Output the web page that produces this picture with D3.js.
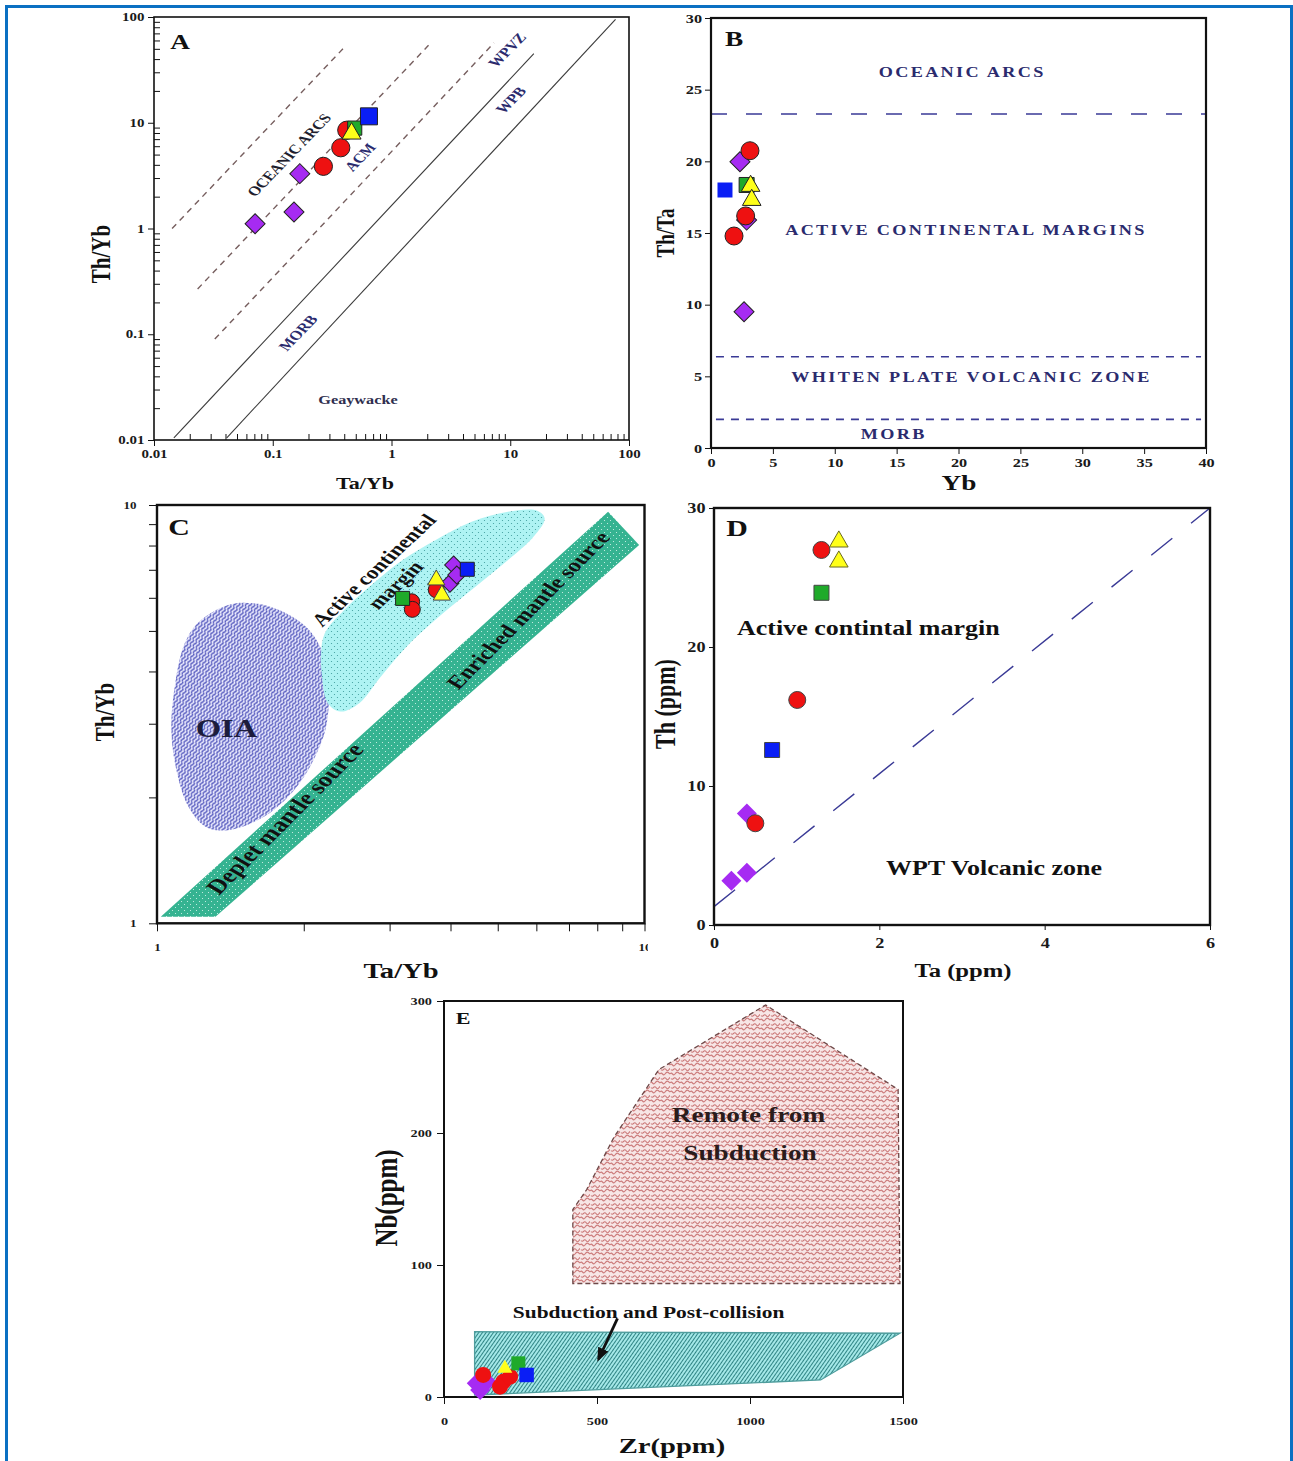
<!DOCTYPE html>
<html>
<head>
<meta charset="utf-8">
<script src="https://cdn.jsdelivr.net/npm/d3@7"></script>
<style>
  body { margin: 0; background: #fff; }
  svg text { font-family: "Liberation Serif", "Times New Roman", serif; font-weight: bold; }
</style>
</head>
<body>
<svg id="fig" width="1293" height="1461"></svg>
<script>
// ---- panel A : Th/Yb vs Ta/Yb (log-log)
const aTicks = [0.01, 0.1, 1, 10, 100];
const aRed = [[0.42, 8.5], [0.374, 5.8], [0.267, 3.87]];
const aPurple = [[0.169, 3.3], [0.151, 1.43], [0.071, 1.11]];
const aBlue = [[0.646, 11.5]];
const aGreen = [[0.49, 8.9]];
const aYellow = [[0.461, 7.9]];
const aDashed = [[[0.0142, 1.0], [0.39, 50]], [[0.0233, 0.268], [2.05, 54]], [[0.0325, 0.09], [7.3, 57]]];
const aSolid = [[[0.0147, 0.0105], [15.8, 45]], [[0.041, 0.0105], [77, 95]]];

// ---- panel B : Th/Ta vs Yb
const bXTicks = [0, 5, 10, 15, 20, 25, 30, 35, 40];
const bYTicks = [0, 5, 10, 15, 20, 25, 30];
const bRed = [[3.15, 20.74], [2.8, 16.19], [1.86, 14.79]];
const bPurple = [[2.34, 19.97], [2.88, 15.9], [2.67, 9.51]];
const bBlue = [[1.13, 18.0]];
const bGreen = [[2.88, 18.35]];
const bYellow = [[3.2, 18.28], [3.29, 17.3]];
const bLongLimit = 23.3;
const bShortLimits = [6.37, 2.0];

// ---- panel C : Th/Yb vs Ta/Yb (log-log)
const cTicks = [1, 10];
const cRed = [[3.33, 5.87], [3.34, 5.63], [3.74, 6.27]];
const cPurple = [[4.06, 7.19], [3.99, 6.5], [4.12, 6.8]];
const cBlue = [[4.33, 7.02]];
const cGreen = [[3.19, 5.98]];
const cYellow = [[3.74, 6.62], [3.84, 6.09]];
const cOIA = [[1.22, 5.26], [1.40, 5.77], [1.58, 5.82], [1.84, 5.51], [2.08, 4.93], [2.23, 4.10], [2.23, 3.01],
  [2.11, 2.50], [1.91, 2.08], [1.66, 1.80], [1.40, 1.67], [1.26, 1.70], [1.16, 1.90], [1.10, 2.28],
  [1.07, 2.90], [1.09, 3.75], [1.14, 4.67]];
const cACM = [[2.21, 4.94], [2.42, 5.61], [2.78, 6.50], [3.19, 7.39], [3.73, 8.25], [4.42, 9.12], [5.25, 9.64],
  [6.03, 9.69], [6.24, 9.29], [5.92, 8.40], [5.25, 7.39], [4.50, 6.38], [3.86, 5.51], [3.30, 4.67],
  [2.88, 3.89], [2.60, 3.36], [2.38, 3.21], [2.24, 3.36], [2.18, 3.89], [2.17, 4.42]];
const cBand = [[1.018, 1.037], [8.42, 9.64], [9.75, 8.02], [1.318, 1.037]];

// ---- panel D : Th vs Ta
const dXTicks = [0, 2, 4, 6];
const dYTicks = [0, 10, 20, 30];
const dRed = [[1.30, 26.98], [1.007, 16.19], [0.50, 7.32]];
const dPurple = [[0.398, 8.03], [0.398, 3.76], [0.21, 3.19]];
const dBlue = [[0.703, 12.59]];
const dGreen = [[1.30, 23.9]];
const dYellow = [[1.51, 27.58], [1.51, 26.14]];
const dLine = [[0, 1.32], [6, 30]];

// ---- panel E : Nb vs Zr
const eXTicks = [0, 500, 1000, 1500];
const eYTicks = [0, 100, 200, 300];
const ePurple = [[107, 10.4], [139, 11.6], [118, 5.3]];
const eRed = [[128, 16.7], [194, 11.6], [183, 7.8], [216, 15.4]];
const eYellow = [[199, 21.7]];
const eGreen = [[243, 25.5]];
const eBlue = [[270, 16.7]];
const eRemote = [[421, 86], [421, 142], [466, 157], [556, 197], [702, 248], [1051, 297], [1484, 233], [1490, 86]];
const eSubd = [[100, 49.5], [1490, 48.3], [1231, 12.9], [100, 1.5]];
const eArrow = [[567, 59.6], [505, 28.6]];

// de originele figuur is horizontaal wat uitgerekt
const SX = 1.3;

const svg = d3.select("#fig");
const defs = svg.append("defs");

// patronen voor de gebieden
const pOIA = defs.append("pattern").attr("id", "pOIA").attr("patternUnits", "userSpaceOnUse")
    .attr("width", 6).attr("height", 3.4).attr("patternTransform", "rotate(-62)");
pOIA.append("rect").attr("width", 6).attr("height", 3.4).attr("fill", "#eeeeff");
pOIA.append("path").attr("d", "M0,1.7 Q1.5,0.3 3,1.7 T6,1.7")
    .attr("fill", "none").attr("stroke", "#5f63c2").attr("stroke-width", 1.5);

const pACM = defs.append("pattern").attr("id", "pACM").attr("patternUnits", "userSpaceOnUse")
    .attr("width", 6).attr("height", 6);
pACM.append("rect").attr("width", 6).attr("height", 6).attr("fill", "#aef3f3");
pACM.append("circle").attr("cx", 1.5).attr("cy", 1.5).attr("r", 0.6).attr("fill", "#3f9c9c");
pACM.append("circle").attr("cx", 4.5).attr("cy", 4.5).attr("r", 0.6).attr("fill", "#3f9c9c");

const pBand = defs.append("pattern").attr("id", "pBand").attr("patternUnits", "userSpaceOnUse")
    .attr("width", 6).attr("height", 6);
pBand.append("rect").attr("width", 6).attr("height", 6).attr("fill", "#35b391");
pBand.append("circle").attr("cx", 1.5).attr("cy", 1.5).attr("r", 0.55).attr("fill", "#d8f5ec");
pBand.append("circle").attr("cx", 4.5).attr("cy", 4.5).attr("r", 0.55).attr("fill", "#d8f5ec");

const pPink = defs.append("pattern").attr("id", "pPink").attr("patternUnits", "userSpaceOnUse")
    .attr("width", 10).attr("height", 9);
pPink.append("rect").attr("width", 10).attr("height", 9).attr("fill", "#f7e6e6");
pPink.append("path").attr("d", "M0,3 c2,-3 3,3 5,0 s3,-2 5,0 M1,7.5 c2,2.5 3,-2.5 5,0 s2,1 4,-1")
    .attr("fill", "none").attr("stroke", "#cc7b7b").attr("stroke-width", 1.1);

const pHatch = defs.append("pattern").attr("id", "pHatch").attr("patternUnits", "userSpaceOnUse")
    .attr("width", 3).attr("height", 10).attr("patternTransform", "rotate(35)");
pHatch.append("rect").attr("width", 3).attr("height", 10).attr("fill", "#aaeded");
pHatch.append("line").attr("x1", 1.5).attr("x2", 1.5).attr("y1", 0).attr("y2", 10)
    .attr("stroke", "#2f8484").attr("stroke-width", 1.1);

defs.append("marker").attr("id", "arrow").attr("viewBox", "0 0 10 8").attr("refX", 8).attr("refY", 4)
    .attr("markerWidth", 5).attr("markerHeight", 5).attr("orient", "auto")
  .append("path").attr("d", "M0,0 L10,4 L0,8 z").attr("fill", "#111");

defs.append("clipPath").attr("id", "clipC").append("rect")
    .attr("x", 0).attr("y", 0).attr("width", 648).attr("height", 1461);

// blauwe rand om de figuur
svg.append("path").attr("d", "M6.5,1461 V6.5 H1291.5 V1461")
    .attr("fill", "none").attr("stroke", "#0a70c2").attr("stroke-width", 3);

// maak een paneel met schalen
function panel(o) {
  const g = svg.append("g");
  const x = (o.xLog ? d3.scaleLog() : d3.scaleLinear()).domain(o.xDomain).range([o.left, o.right]);
  const y = (o.yLog ? d3.scaleLog() : d3.scaleLinear()).domain(o.yDomain).range([o.bottom, o.top]);
  return {g: g, x: x, y: y, o: o};
}

function minorLog(lo, hi) {
  const out = [];
  for (let d = lo; d < hi * 0.999; d *= 10)
    for (let k = 2; k <= 9; k++) out.push(+(d * k).toPrecision(3));
  return out;
}

function styleAxis(sel, fs) {
  sel.attr("font-size", fs).attr("font-family", "Liberation Serif").attr("font-weight", "bold");
  sel.select(".domain").remove();
  sel.selectAll("text").attr("fill", "#1a1a1a");
  sel.selectAll("line").attr("stroke", "#111");
}

function axes(p, c) {
  const o = p.o;
  const bx = p.g.append("g").attr("transform", "translate(0," + o.bottom + ")")
      .call(d3.axisBottom(p.x).tickValues(c.xTicks).tickFormat(d => String(d))
        .tickSize(c.tick).tickSizeOuter(0).tickPadding(c.xPad));
  styleAxis(bx, c.fs);
  bx.selectAll("text").attr("transform", "scale(" + SX + ",1)");
  if (c.clip) bx.attr("clip-path", "url(#" + c.clip + ")");
  const ly = p.g.append("g").attr("transform", "translate(" + o.left + ",0)")
      .call(d3.axisLeft(p.y).tickValues(c.yTicks).tickFormat(d => String(d))
        .tickSize(c.tick).tickSizeOuter(0).tickPadding(c.yPad));
  styleAxis(ly, c.fs);
  ly.selectAll("text").attr("x", -(c.tick + c.yPad) / SX).attr("transform", "scale(" + SX + ",1)");
  if (c.xMinor) {
    const mx = p.g.append("g").attr("transform", "translate(0," + o.bottom + ")")
        .call(d3.axisBottom(p.x).tickValues(c.xMinor).tickFormat("").tickSize(c.minor).tickSizeOuter(0));
    styleAxis(mx, c.fs);
    const my = p.g.append("g").attr("transform", "translate(" + o.left + ",0)")
        .call(d3.axisLeft(p.y).tickValues(c.yMinor).tickFormat("").tickSize(c.minor).tickSizeOuter(0));
    styleAxis(my, c.fs);
  }
  p.g.append("rect").attr("x", o.left).attr("y", o.top)
      .attr("width", o.right - o.left).attr("height", o.bottom - o.top)
      .attr("fill", "none").attr("stroke", "#111").attr("stroke-width", c.frame);
}

const symbols = {circle: d3.symbolCircle, square: d3.symbolSquare, diamond: d3.symbolSquare, triangle: d3.symbolTriangle};

function marks(p, data, shape, size, fill, stroke) {
  const sym = d3.symbol().type(symbols[shape]).size(size);
  p.g.append("g").selectAll("path").data(data).enter().append("path")
      .attr("d", sym)
      .attr("transform", d => "translate(" + p.x(d[0]) + "," + p.y(d[1]) + ")" + (shape == "diamond" ? " rotate(45)" : ""))
      .attr("fill", fill)
      .attr("stroke", stroke || "none")
      .attr("stroke-width", 1);
}

// tekst, met dezelfde horizontale rek als de bron
function txt(parent, x, y, s, size, opt) {
  opt = opt || {};
  let rot = 0;
  if (opt.rot) rot = (opt.rot == -90) ? -90 : Math.atan(SX * Math.tan(opt.rot * Math.PI / 180)) * 180 / Math.PI;
  const t = parent.append("text").attr("x", 0).attr("y", 0).attr("dy", "0.35em")
      .attr("transform", "translate(" + x + "," + y + ") scale(" + SX + ",1) rotate(" + rot + ")")
      .attr("text-anchor", opt.anchor || "middle").attr("font-size", size)
      .attr("fill", opt.color || "#111").text(s);
  if (opt.ls) t.attr("letter-spacing", opt.ls);
  return t;
}

function polygon(p, pts, fill, stroke, dash) {
  p.g.append("path").datum(pts)
      .attr("d", d3.line().x(d => p.x(d[0])).y(d => p.y(d[1])).curve(d3.curveLinearClosed))
      .attr("fill", fill).attr("stroke", stroke || "none").attr("stroke-width", 1.3)
      .attr("stroke-dasharray", dash || null);
}

function blob(p, pts, fill) {
  p.g.append("path").datum(pts)
      .attr("d", d3.line().x(d => p.x(d[0])).y(d => p.y(d[1])).curve(d3.curveCatmullRomClosed))
      .attr("fill", fill);
}

function segments(p, list, color, width, dash) {
  p.g.append("g").selectAll("path").data(list).enter().append("path")
      .attr("d", d3.line().x(d => p.x(d[0])).y(d => p.y(d[1])))
      .attr("fill", "none").attr("stroke", color).attr("stroke-width", width)
      .attr("stroke-dasharray", dash || null);
}

const RED = "#ee1111", PURPLE = "#a62bf2", BLUE = "#0a1ef5", GREEN = "#1faa2a", YELLOW = "#ffff1a";
const NAVY = "#2b2b6e";

// ================= A
const A = panel({left: 154, right: 629, top: 17, bottom: 440, xLog: true, yLog: true, xDomain: [0.01, 100], yDomain: [0.01, 100]});
segments(A, aDashed, "#765e5e", 1.4, "6,5");
segments(A, aSolid, "#3a3a3a", 1.1);
axes(A, {xTicks: aTicks, yTicks: aTicks, xMinor: minorLog(0.01, 100), yMinor: minorLog(0.01, 100),
  tick: 6, minor: -6, fs: 11.5, xPad: 4, yPad: 3.5, frame: 1.6});
txt(A.g, A.x(0.137), A.y(4.96), "OCEANIC ARCS", 13, {rot: -46, color: "#1e1e2e"});
txt(A.g, A.x(0.543), A.y(4.74), "ACM", 13, {rot: -46, color: NAVY});
txt(A.g, A.x(9.4), A.y(48.7), "WPVZ", 13, {rot: -45, color: NAVY});
txt(A.g, A.x(10.1), A.y(16.4), "WPB", 13, {rot: -45, color: NAVY});
txt(A.g, A.x(0.163), A.y(0.103), "MORB", 13, {rot: -46, color: NAVY});
txt(A.g, A.x(0.522), A.y(0.0239), "Geaywacke", 12.5, {color: "#2e2e4e"});
marks(A, aPurple, "diamond", 200, PURPLE, "#222");
marks(A, aRed, "circle", 260, RED, "#222");
marks(A, aGreen, "square", 200, GREEN, "#222");
marks(A, aBlue, "square", 289, BLUE, "#222");
marks(A, aYellow, "triangle", 156, YELLOW, "#222");
txt(svg, 180, 42, "A", 21, {});
txt(svg, 100, 254, "Th/Yb", 21, {rot: -90});
txt(svg, 365, 483, "Ta/Yb", 17, {});

// ================= B
const B = panel({left: 711, right: 1206, top: 18, bottom: 448, xDomain: [0, 40], yDomain: [0, 30]});
segments(B, [[[0, bLongLimit], [40, bLongLimit]]], "#3a3a96", 1.6, "16,19");
segments(B, bShortLimits.map(v => [[0.4, v], [39.6, v]]), "#3a3a96", 1.6, "8,7");
axes(B, {xTicks: bXTicks, yTicks: bYTicks, tick: 6, fs: 12.5, xPad: 4, yPad: 3, frame: 2.2});
txt(B.g, B.x(20.3), B.y(26.2), "OCEANIC ARCS", 14, {color: NAVY, ls: 1.8});
txt(B.g, B.x(20.6), B.y(15.2), "ACTIVE CONTINENTAL MARGINS", 14, {color: NAVY, ls: 1.8});
txt(B.g, B.x(21.05), B.y(4.97), "WHITEN PLATE VOLCANIC ZONE", 14, {color: NAVY, ls: 1.8});
txt(B.g, B.x(14.77), B.y(0.96), "MORB", 14, {color: NAVY, ls: 1.8});
marks(B, bPurple, "diamond", 200, PURPLE, "#222");
marks(B, bBlue, "square", 225, BLUE, "none");
marks(B, bGreen, "square", 225, GREEN, "#222");
marks(B, bRed, "circle", 254, RED, "#222");
marks(B, bYellow, "triangle", 150, YELLOW, "#222");
txt(svg, 734, 39, "B", 21, {});
txt(svg, 665, 233, "Th/Ta", 19, {rot: -90});
txt(svg, 959, 483, "Yb", 21, {});

// ================= C
const C = panel({left: 157, right: 644.5, top: 505, bottom: 923.3, xLog: true, yLog: true, xDomain: [1, 10], yDomain: [1, 10]});
blob(C, cOIA, "url(#pOIA)");
blob(C, cACM, "url(#pACM)");
polygon(C, cBand, "url(#pBand)");
axes(C, {xTicks: cTicks, yTicks: cTicks, xMinor: minorLog(1, 10), yMinor: minorLog(1, 10),
  tick: 8, minor: 8, fs: 10, xPad: 13, yPad: 12.5, frame: 2.4, clip: "clipC"});
txt(C.g, C.x(1.388), C.y(2.93), "OIA", 25, {color: "#1c1c3c"});
txt(C.g, C.x(2.78), C.y(6.99), "Active continental", 18, {rot: -43});
txt(C.g, C.x(3.08), C.y(6.44), "margin", 18, {rot: -43});
txt(C.g, C.x(5.77), C.y(5.61), "Enriched mantle source", 19, {rot: -45});
txt(C.g, C.x(1.826), C.y(1.78), "Deplet mantle source", 20.5, {rot: -45});
marks(C, cPurple, "diamond", 162, PURPLE, "#222");
marks(C, cRed, "circle", 201, RED, "#222");
marks(C, cGreen, "square", 196, GREEN, "#222");
marks(C, cBlue, "square", 196, BLUE, "#222");
marks(C, cYellow, "triangle", 130, YELLOW, "#444");
txt(svg, 179, 527, "C", 23, {});
txt(svg, 104, 712, "Th/Yb", 21, {rot: -90});
txt(svg, 401, 970, "Ta/Yb", 22, {});

// ================= D
const D = panel({left: 714, right: 1210, top: 508, bottom: 925, xDomain: [0, 6], yDomain: [0, 30]});
segments(D, [dLine], "#3a3a96", 1.4, "27,24");
axes(D, {xTicks: dXTicks, yTicks: dYTicks, tick: 5, fs: 14, xPad: 8, yPad: 3.5, frame: 2.4});
txt(D.g, D.x(1.867), D.y(21.35), "Active contintal margin", 20, {});
txt(D.g, D.x(3.387), D.y(4.08), "WPT Volcanic zone", 20, {});
marks(D, dPurple, "diamond", 200, PURPLE, "none");
marks(D, dRed, "circle", 227, RED, "#444");
marks(D, dGreen, "square", 225, GREEN, "#444");
marks(D, dBlue, "square", 225, BLUE, "#444");
marks(D, dYellow, "triangle", 150, YELLOW, "#6a6a20");
txt(svg, 737, 528, "D", 23, {});
txt(svg, 665, 704, "Th (ppm)", 22, {rot: -90});
txt(svg, 963, 970, "Ta (ppm)", 19, {});

// ================= E
const E = panel({left: 444, right: 903, top: 1001, bottom: 1397, xDomain: [0, 1500], yDomain: [0, 300]});
polygon(E, eRemote, "url(#pPink)", "#6e4848", "5,3");
polygon(E, eSubd, "url(#pHatch)", "#4f9d9d");
axes(E, {xTicks: eXTicks, yTicks: eYTicks, tick: 7, fs: 11, xPad: 13, yPad: 5, frame: 2});
txt(E.g, E.x(995), E.y(213.6), "Remote from", 21, {color: "#2a1c1c"});
txt(E.g, E.x(1000), E.y(185), "Subduction", 21, {color: "#2a1c1c"});
txt(E.g, E.x(668.6), E.y(63.9), "Subduction and Post-collision", 16.5, {});
E.g.append("path").datum(eArrow)
    .attr("d", d3.line().x(d => E.x(d[0])).y(d => E.y(d[1])))
    .attr("stroke", "#111").attr("stroke-width", 2.8).attr("marker-end", "url(#arrow)");
marks(E, ePurple, "diamond", 200, PURPLE);
marks(E, eRed, "circle", 201, RED);
marks(E, eYellow, "triangle", 95, YELLOW);
marks(E, eGreen, "square", 196, GREEN);
marks(E, eBlue, "square", 210, BLUE);
txt(svg, 463, 1018, "E", 17, {});
txt(svg, 386, 1198, "Nb(ppm)", 25, {rot: -90});
txt(svg, 672, 1445, "Zr(ppm)", 22, {});
</script>
</body>
</html>
